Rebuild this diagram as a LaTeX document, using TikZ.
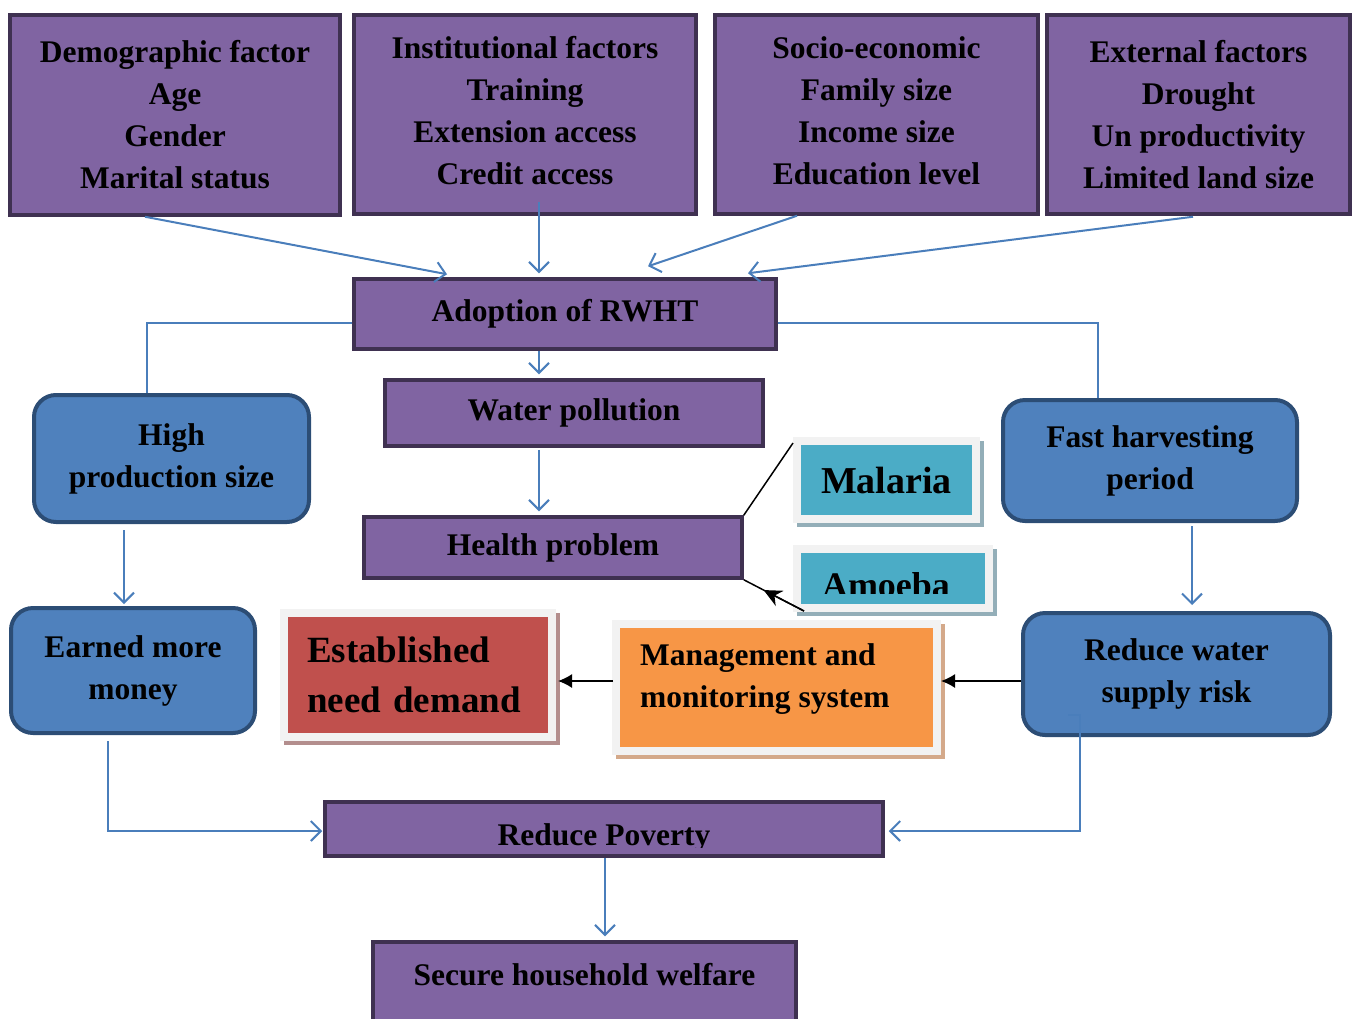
\documentclass[tikz,border=0pt]{standalone}
\usepackage{fontspec}
\setmainfont{Liberation Serif}
\usetikzlibrary{arrows.meta,calc,shadows}

\definecolor{pfill}{HTML}{8064A2}
\definecolor{pline}{HTML}{3F3151}
\definecolor{bfill}{HTML}{4F81BD}
\definecolor{blueline}{HTML}{2C4D75}
\definecolor{cblue}{HTML}{4A7EBB}
\definecolor{tealbox}{HTML}{4BACC6}
\definecolor{redbox}{HTML}{C0504D}
\definecolor{orangebox}{HTML}{F79646}
\definecolor{framegray}{HTML}{F2F2F2}
\definecolor{tealsh}{HTML}{93AEB8}
\definecolor{redsh}{HTML}{B38E8D}
\definecolor{orangesh}{HTML}{D4A98A}

\begin{document}
\begin{tikzpicture}[x=1pt,y=-1pt,
  txt/.style={inner sep=0pt, align=center, font=\fontsize{31.5}{42}\selectfont\bfseries},
  pbox/.style={txt, draw=pline, fill=pfill, line width=3.5pt},
  bbox/.style={txt, draw=blueline, fill=bfill, line width=4pt, rounded corners=22pt},
  framebox/.style={txt, draw=framegray, line width=8pt,
    drop shadow={shadow xshift=4pt, shadow yshift=-4pt, draw=#1, fill=#1, line width=8pt, opacity=1}},
  link/.style={draw=cblue, line width=2pt},
  flow/.style={link, -{Straight Barb[length=10pt,width=20pt]}},
  blk/.style={draw=black, line width=1.5pt},
  barrow/.style={blk, -{Latex[length=14pt,width=14pt]}},
]
\useasboundingbox (0,0) rectangle (1358,1018);
\clip (0,0) rectangle (1358,1018);

% factor boxes along the top
\node[pbox, minimum width=330pt, minimum height=200pt] (d1) at (175,115)
  {Demographic factor\\Age\\Gender\\Marital status};
\node[pbox, minimum width=342pt, minimum height=199pt, text depth=8pt] (d2) at (525,114.5)
  {Institutional factors\\Training\\Extension access\\Credit access};
\node[pbox, minimum width=323pt, minimum height=199pt, text depth=8pt] (d3) at (876.5,114.5)
  {Socio-economic\\Family size\\Income size\\Education level};
\node[pbox, minimum width=303pt, minimum height=199pt] (d4) at (1198.5,114.5)
  {External factors\\Drought\\Un productivity\\Limited land size};

% central chain
\node[pbox, minimum width=422pt, minimum height=70pt] (adopt) at (565,314) {Adoption of RWHT};
\node[pbox, minimum width=378pt, minimum height=66pt] (water) at (574,413) {Water pollution};
\node[pbox, minimum width=378pt, minimum height=61pt] (health) at (553,547.5) {Health problem};
\node[pbox, minimum width=558pt, minimum height=54pt] (pov) at (604,829) {};
\begin{scope}
  \clip (330,805) rectangle (880,847);
  \node[txt, anchor=base] (povt) at (604,845) {Reduce Poverty};
\end{scope}
\node[pbox, minimum width=423pt, minimum height=88pt, text height=22pt, text depth=24pt] (secure) at (584.5,986)
  {Secure household welfare};

% rounded outcome boxes
\node[bbox, minimum width=275pt, minimum height=127pt] (high) at (171.5,458.5) {High\\production size};
\node[bbox, minimum width=294pt, minimum height=121pt] (fast) at (1150,460.5) {Fast harvesting\\period};
\node[bbox, minimum width=244pt, minimum height=125pt] (earn) at (133,670.5) {Earned more\\money};
\node[bbox, minimum width=307pt, minimum height=122pt] (rwater) at (1176.5,674) {Reduce water\\supply risk};

% framed boxes
\node[framebox=tealsh, fill=tealbox, minimum width=179pt, minimum height=78pt,
  font=\fontsize{38}{40}\selectfont\bfseries] (mal) at (886.5,480) {Malaria};
\node[framebox=tealsh, fill=tealbox, minimum width=192pt, minimum height=59pt] (amo) at (893,578.5) {};
\begin{scope}
  \clip (801,553) rectangle (985,593);
  \node[txt, font=\fontsize{36}{40}\selectfont\bfseries, anchor=base] (amot) at (886,597) {Amoeba};
\end{scope}
\node[framebox=redsh, fill=redbox, minimum width=268pt, minimum height=124pt, text width=222pt,
  inner xsep=23pt, align=left, font=\fontsize{37}{50}\selectfont\bfseries] (est) at (418,675)
  {Established\\need demand};
\node[framebox=orangesh, fill=orangebox, minimum width=321pt, minimum height=127pt] (mgmt) at (776.5,687.5) {};
\node[txt, align=left, anchor=west] (mgmtt) at (640,679) {Management and\\monitoring system};

% blue connectors
\draw[flow] ($(d1.south)+(-30,0)$) -- ($(adopt.north)+(-118,-3)$);
\draw[flow] ($(d2.south)+(14,-14)$) -- ($(adopt.north)+(-26,-4)$);
\draw[flow] ($(d3.south)+(-79.5,0)$) -- ($(adopt.north)+(83,-11)$);
\draw[flow] ($(d4.south)+(-5.5,1)$) -- ($(adopt.north)+(183,-4)$);
\draw[flow] ($(adopt.south)+(-26,0)$) -- ($(water.north)+(-35,-4)$);
\draw[flow] ($(water.south)+(-35,2)$) -- ($(health.north)+(-14,-4)$);
\draw[link] ($(adopt.west)+(0,9)$) -| ($(high.north)+(-24.5,0)$);
\draw[link] ($(adopt.east)+(0,9)$) -| ($(fast.north)+(-52,0)$);
\draw[flow] ($(high.south)+(-47.5,6)$) -- ($(earn.north)+(-9,-2)$);
\draw[flow] ($(fast.south)+(42,3)$) -- ($(rwater.north)+(15.5,-6)$);
\draw[flow] ($(earn.south)+(-25,6)$) |- ($(pov.west)+(-1,2)$);
\draw[flow] ($(rwater.south west)+(47,-22)$) -- ++(12,0) |- ($(pov.east)+(4,2)$);
\draw[flow] ($(pov.south)+(1,0)$) -- ($(secure.north)+(20.5,-4)$);

% black connectors
\draw[barrow] ($(mgmt.west)+(1,-6.5)$) -- ($(est.east)+(2,6)$);
\draw[barrow] ($(rwater.west)+(0,7)$) -- ($(mgmt.east)+(0,-6.5)$);
\draw[blk] (health.north east) -- ($(mal.north west)+(0,6)$);
\coordinate (amofoot) at ($(amo.south west)+(11,-1)$);
\draw[blk] (amofoot) -- (health.south east);
\draw[blk, -{Stealth[length=18pt,width=17pt]}] (amofoot) -- ($(amofoot)!0.67!(health.south east)$);
\end{tikzpicture}
\end{document}
